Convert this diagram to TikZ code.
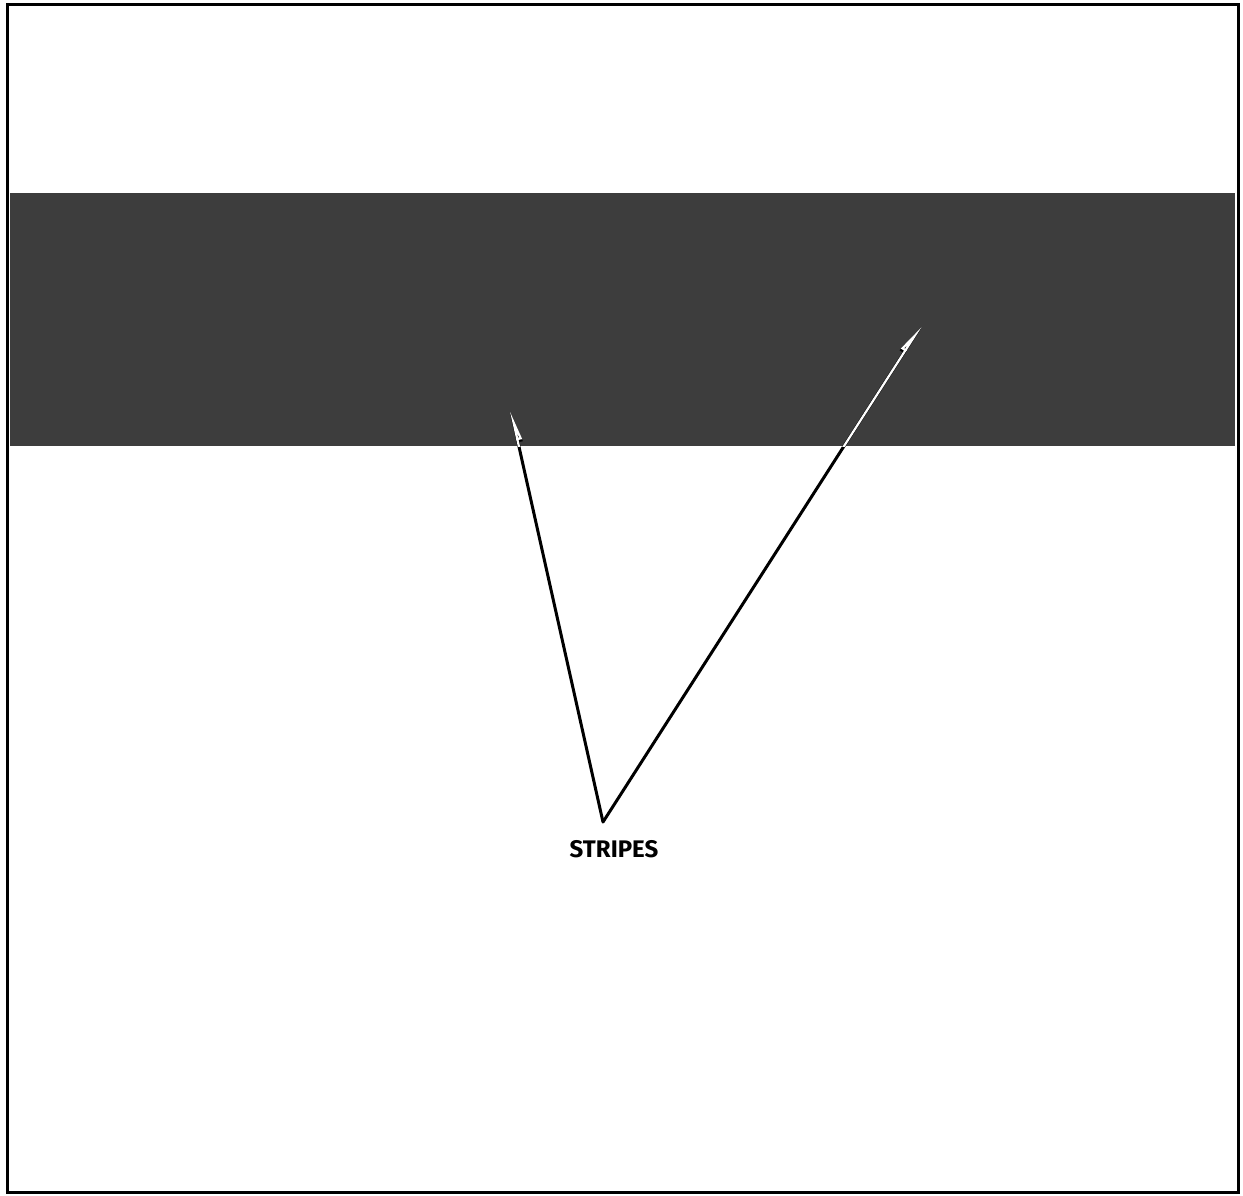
\documentclass[tikz,border=0pt]{standalone}
\usepackage{fontspec}
\setmainfont{Fira Sans}
\usetikzlibrary{arrows.meta}

\begin{document}
\begin{tikzpicture}[
  x=1pt, y=-1pt,
  frame/.style={draw, line width=3pt},
  band/.style={fill=black!76, draw=none},
  leader/.style={line width=3pt, black, line cap=round},
  inband/.style={line width=2.2pt, white, line cap=round},
  lbl/.style={font=\fontsize{24}{28}\selectfont\bfseries, inner sep=0pt}
]
\useasboundingbox (0,0) rectangle (1243,1195);
\draw[frame] (7.5,4.5) rectangle (1238,1192);
\fill[band] (10,193) rectangle (1235,446);

\node[lbl] (stripes) at (614,849) {STRIPES};
\coordinate (apex) at (603,822);
\coordinate (tipl) at (511,411);
\coordinate (tipr) at (921,326);

% leaders, black below the band
\draw[leader, -{Triangle[harpoon, swap, length=24pt, width=9pt]}] (apex) -- (tipl);
\draw[leader, -{Triangle[harpoon, length=24pt, width=9pt]}] (apex) -- (tipr);

% same leaders, white where they cross the band
\begin{scope}
  \clip (10,193) rectangle (1235,446);
  \draw[inband, -{Triangle[harpoon, swap, length=24pt, width=9pt, fill=black]}] (apex) -- (tipl);
  \draw[inband, -{Triangle[harpoon, length=24pt, width=9pt, fill=black]}] (apex) -- (tipr);
\end{scope}
\end{tikzpicture}
\end{document}
